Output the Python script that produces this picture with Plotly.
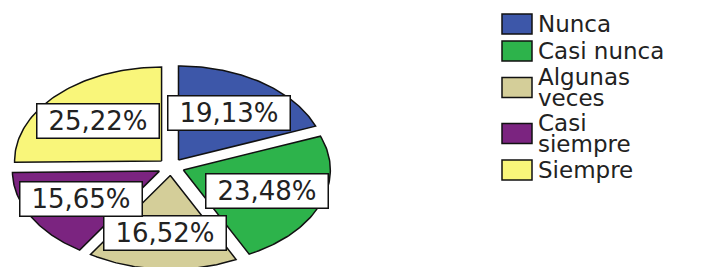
import numpy as np
import plotly.graph_objects as go

categories = ["Nunca", "Casi nunca", "Algunas veces", "Casi siempre", "Siempre"]
values = [19.13, 23.48, 16.52, 15.65, 25.22]
colors = ["#3D57A9", "#2DB34B", "#D4CE99", "#7B2480", "#F9F67A"]

W, H = 709, 267
SHIFT = 8  # browser body margin
explode = 0.09
label_r = 0.61

# pie centre at page pixel (171, 167); 147 px per unit in x, 94 px per unit in y
cx, cy, sx, sy = 171 - SHIFT, 167 - SHIFT, 147.0, 94.0
x0 = -cx / sx
y0 = -(H - cy) / sy

fig = go.Figure()
total = sum(values)
start = 0.0
for cat, val, col in zip(categories, values, colors):
    a0 = start / total * 2 * np.pi
    a1 = (start + val) / total * 2 * np.pi
    mid = (a0 + a1) / 2
    ox, oy = explode * np.sin(mid), explode * np.cos(mid)
    th = np.linspace(a0, a1, 80)
    xs = np.concatenate([[ox], ox + np.sin(th), [ox]])
    ys = np.concatenate([[oy], oy + np.cos(th), [oy]])
    fig.add_trace(go.Scatter(x=xs, y=ys, mode="lines", fill="toself",
                             fillcolor=col, line=dict(color="#111111", width=1.5),
                             name=cat, showlegend=False, hoverinfo="name"))
    txt = f"{val:.2f}".replace(".", ",") + "%"
    fig.add_annotation(x=ox + label_r * np.sin(mid), y=oy + label_r * np.cos(mid),
                       xref="x", yref="y", text=txt, showarrow=False,
                       font=dict(family="DejaVu Sans", size=26, color="#222222"),
                       bgcolor="white", bordercolor="#111111", borderwidth=1.5,
                       borderpad=1, width=119, height=31)
    start += val

# manual legend (page pixel positions)
def px(x):
    return (x - SHIFT) / W

def py(y):
    return 1 - (y - SHIFT) / H

yc = 24
prev_h = None
for i, (cat, col) in enumerate(zip(categories, colors)):
    words = cat.split(" ")
    lines = [cat] if len(cat) <= 10 else [words[0], " ".join(words[1:])]
    h = 27 if len(lines) == 1 else 46
    if prev_h is not None:
        yc += (prev_h + h) / 2
    prev_h = h
    fig.add_shape(type="rect", xref="paper", yref="paper",
                  x0=px(502), x1=px(532), y0=py(yc - 10), y1=py(yc + 10),
                  fillcolor=col, line=dict(color="#111111", width=1.5))
    n = len(lines)
    for j, ln in enumerate(lines):
        ly = yc + (j - (n - 1) / 2) * 21
        fig.add_annotation(x=px(537), y=py(ly), xref="paper", yref="paper",
                           text=ln, showarrow=False, xanchor="left", yanchor="middle",
                           borderpad=0,
                           font=dict(family="DejaVu Sans", size=23, color="#222222"))

fig.update_xaxes(range=[x0, x0 + W / sx], visible=False, fixedrange=True)
fig.update_yaxes(range=[y0, y0 + H / sy], visible=False, fixedrange=True)
fig.update_layout(width=W, height=H, margin=dict(l=0, r=0, t=0, b=0),
                  paper_bgcolor="white", plot_bgcolor="white", showlegend=False)
fig.write_html("out.html")
